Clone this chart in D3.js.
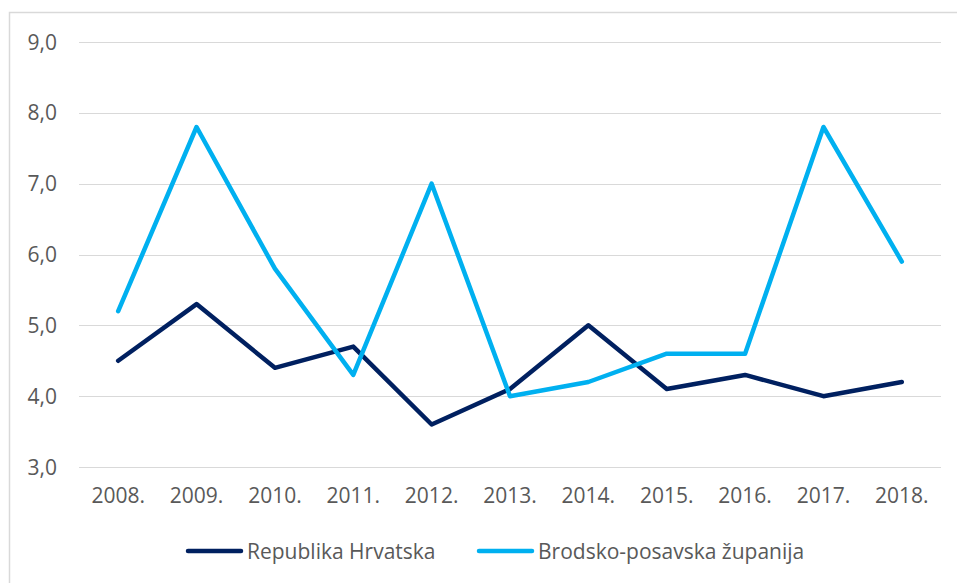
<!DOCTYPE html>
<html>
<head>
<meta charset="utf-8">
<script src="https://cdn.jsdelivr.net/npm/d3@7"></script>
<style>
  body { margin: 0; background: #fff; }
  text { font-family: "Open Sans", "Noto Sans", sans-serif; fill: #595959; }
</style>
</head>
<body>
<div id="chart"></div>
<script>
// Chart data
const years = ["2008.", "2009.", "2010.", "2011.", "2012.", "2013.", "2014.", "2015.", "2016.", "2017.", "2018."];
const hrvatska = [4.5, 5.3, 4.4, 4.7, 3.6, 4.1, 5.0, 4.1, 4.3, 4.0, 4.2];
const brodsko = [5.2, 7.8, 5.8, 4.3, 7.0, 4.0, 4.2, 4.6, 4.6, 7.8, 5.9];
const yTicks = [3, 4, 5, 6, 7, 8, 9];
const seriesNames = ["Republika Hrvatska", "Brodsko-posavska županija"];
const seriesColors = ["#002060", "#00B0F0"];

var width = 957;
var height = 583;

var svg = d3.select("#chart").append("svg")
  .attr("width", width)
  .attr("height", height);

// outer chart border
svg.append("rect")
  .attr("x", 9.5)
  .attr("y", 12.5)
  .attr("width", 980)
  .attr("height", 600)
  .attr("fill", "none")
  .attr("stroke", "#d9d9d9")
  .attr("stroke-width", 1.5);

var plotLeft = 79, plotRight = 941, plotTop = 42, plotBottom = 467;

var x = d3.scaleBand()
  .domain(years)
  .range([plotLeft, plotRight]);

var y = d3.scaleLinear()
  .domain([3, 9])
  .range([plotBottom, plotTop]);

// gridlines
svg.append("g")
  .selectAll("line")
  .data(yTicks)
  .enter().append("line")
  .attr("x1", plotLeft)
  .attr("x2", plotRight)
  .attr("y1", d => Math.round(y(d)) + 0.5)
  .attr("y2", d => Math.round(y(d)) + 0.5)
  .attr("stroke", "#d9d9d9")
  .attr("stroke-width", 1);

// y axis labels
svg.append("g")
  .selectAll("text")
  .data(yTicks)
  .enter().append("text")
  .attr("x", 57)
  .attr("y", d => y(d))
  .attr("dy", "0.36em")
  .attr("text-anchor", "end")
  .style("font-size", "21px")
  .text(d => d.toFixed(1).replace(".", ","));

// x axis labels
svg.append("g")
  .selectAll("text")
  .data(years)
  .enter().append("text")
  .attr("x", d => x(d) + x.bandwidth() / 2)
  .attr("y", 503)
  .attr("text-anchor", "middle")
  .style("font-size", "21px")
  .text(d => d);

var line = d3.line()
  .x((d, i) => x(years[i]) + x.bandwidth() / 2)
  .y(d => y(d));

[hrvatska, brodsko].forEach(function (s, i) {
  svg.append("path")
    .datum(s)
    .attr("d", line)
    .attr("fill", "none")
    .attr("stroke", seriesColors[i])
    .attr("stroke-width", 4.5)
    .attr("stroke-linejoin", "round")
    .attr("stroke-linecap", "round");
});

// legend
var legendX = [188, 479];
seriesNames.forEach(function (name, i) {
  var g = svg.append("g").attr("transform", "translate(" + legendX[i] + ",551)");
  g.append("line")
    .attr("x1", 0).attr("x2", 53)
    .attr("y1", 0).attr("y2", 0)
    .attr("stroke", seriesColors[i])
    .attr("stroke-width", 4.5)
    .attr("stroke-linecap", "round");
  g.append("text")
    .attr("x", 59)
    .attr("y", 0)
    .attr("dy", "0.36em")
    .style("font-size", "21px")
    .text(name);
});
</script>
</body>
</html>
